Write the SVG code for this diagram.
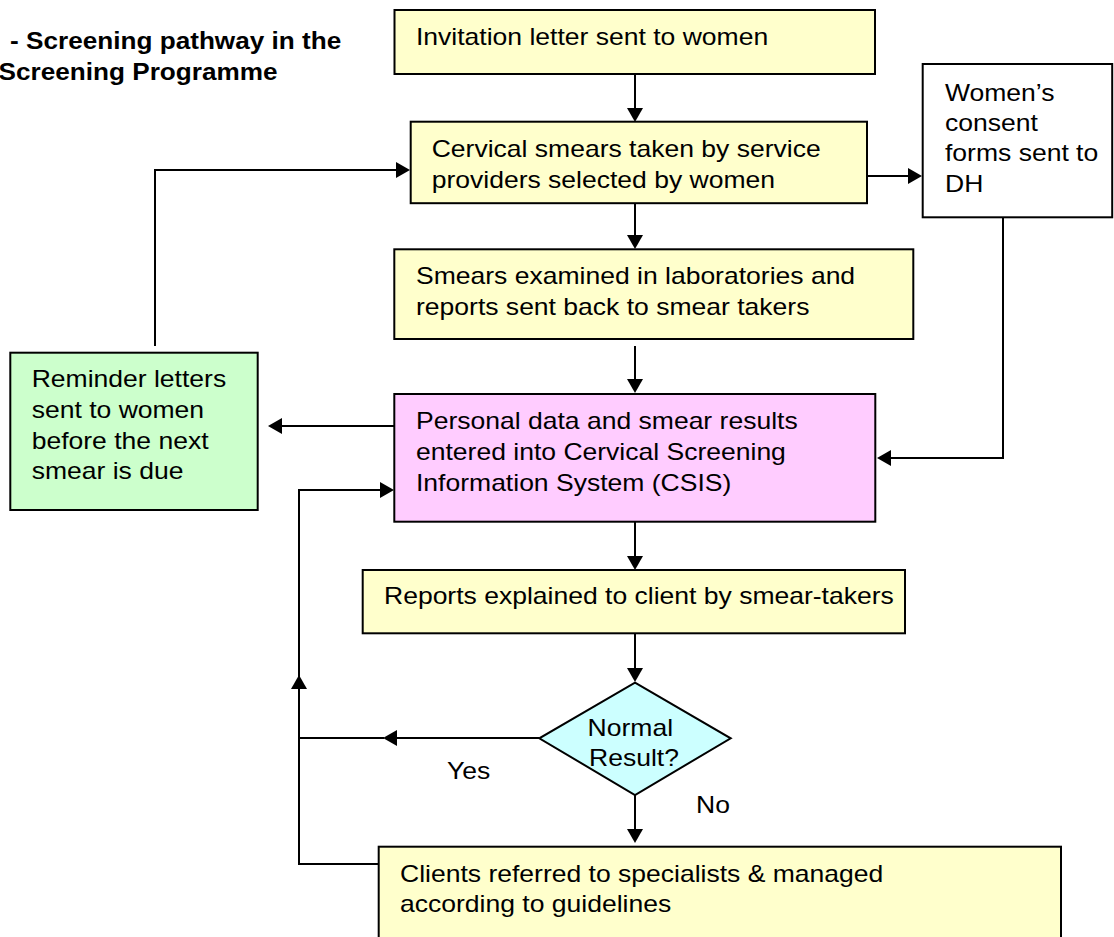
<svg xmlns="http://www.w3.org/2000/svg" width="1114" height="937" viewBox="0 0 1114 937">
  <style>
    .box { stroke: #000; stroke-width: 2; }
    .yellow { fill: #FFFFCC; }
    .green { fill: #CCFFCC; }
    .pink { fill: #FFCCFF; }
    .cyan { fill: #CCFFFF; }
    .white { fill: #FFFFFF; }
    .t { font-family: "Liberation Sans", Arial, sans-serif; font-size: 24px; fill: #000; }
    .title { font-weight: bold; }
    .mid { text-anchor: middle; }
    .conn { fill: none; stroke: #000; stroke-width: 2; }
  </style>
  <defs>
    <marker id="arrow" markerUnits="userSpaceOnUse" viewBox="0 0 14 16" refX="11" refY="8" markerWidth="14" markerHeight="16" orient="auto">
      <path d="M0,0 L14,8 L0,16 Z" fill="#000"/>
    </marker>
  </defs>

  <rect width="1114" height="937" fill="#FFFFFF"/>

  <!-- heading -->
  <g id="heading">
    <text class="t title" transform="translate(10 49.3) scale(1.09 1)">- Screening pathway in the</text>
    <text class="t title" transform="translate(-1.5 80) scale(1.09 1)">Screening Programme</text>
  </g>

  <!-- connectors -->
  <g id="connectors">
    <path class="conn" d="M635,74 V119" marker-end="url(#arrow)"/>
    <path class="conn" d="M155,346 V170 H407" marker-end="url(#arrow)"/>
    <path class="conn" d="M867,176 H919" marker-end="url(#arrow)"/>
    <path class="conn" d="M635,203 V246" marker-end="url(#arrow)"/>
    <path class="conn" d="M635,346 V390" marker-end="url(#arrow)"/>
    <path class="conn" d="M1003,217 V458 H880" marker-end="url(#arrow)"/>
    <path class="conn" d="M394,426 H271" marker-end="url(#arrow)"/>
    <path class="conn" d="M635,522 V567" marker-end="url(#arrow)"/>
    <path class="conn" d="M635,633 V679" marker-end="url(#arrow)"/>
    <path class="conn" d="M539,738 H386" marker-end="url(#arrow)"/>
    <path class="conn" d="M384,738 H299"/>
    <path class="conn" d="M379,864 H299 V678" marker-end="url(#arrow)"/>
    <path class="conn" d="M299,677 V490 H391" marker-end="url(#arrow)"/>
    <path class="conn" d="M635,795 V840" marker-end="url(#arrow)"/>
  </g>

  <g id="invitation">
    <rect class="box yellow" x="394.5" y="10" width="480.5" height="64"/>
    <text class="t" transform="translate(416 45) scale(1.105 1)">Invitation letter sent to women</text>
  </g>

  <g id="smear-taking">
    <rect class="box yellow" x="410.7" y="121.7" width="456.3" height="81.5"/>
    <text class="t" transform="translate(431.7 156.7) scale(1.105 1)">
      <tspan x="0" y="0">Cervical smears taken by service</tspan>
      <tspan x="0" y="31">providers selected by women</tspan>
    </text>
  </g>

  <g id="consent-forms">
    <rect class="box white" x="922.7" y="64" width="189.5" height="153.3"/>
    <text class="t" transform="translate(945 101) scale(1.105 1)">
      <tspan x="0" y="0">Women’s</tspan>
      <tspan x="0" y="30.2">consent</tspan>
      <tspan x="0" y="60.4">forms sent to</tspan>
      <tspan x="0" y="90.6">DH</tspan>
    </text>
  </g>

  <g id="laboratory">
    <rect class="box yellow" x="394.3" y="249.3" width="519" height="89.7"/>
    <text class="t" transform="translate(416 284.3) scale(1.105 1)">
      <tspan x="0" y="0">Smears examined in laboratories and</tspan>
      <tspan x="0" y="30.7">reports sent back to smear takers</tspan>
    </text>
  </g>

  <g id="reminder">
    <rect class="box green" x="10.3" y="352.7" width="247.4" height="157.3"/>
    <text class="t" transform="translate(31.7 387.3) scale(1.105 1)">
      <tspan x="0" y="0">Reminder letters</tspan>
      <tspan x="0" y="30.7">sent to women</tspan>
      <tspan x="0" y="61.4">before the next</tspan>
      <tspan x="0" y="92.1">smear is due</tspan>
    </text>
  </g>

  <g id="csis">
    <rect class="box pink" x="394.3" y="394" width="481" height="127.7"/>
    <text class="t" transform="translate(416 429.3) scale(1.105 1)">
      <tspan x="0" y="0">Personal data and smear results</tspan>
      <tspan x="0" y="30.7">entered into Cervical Screening</tspan>
      <tspan x="0" y="61.4">Information System (CSIS)</tspan>
    </text>
  </g>

  <g id="reports">
    <rect class="box yellow" x="362.7" y="570" width="542.3" height="63.3"/>
    <text class="t" transform="translate(384 604.3) scale(1.105 1)">Reports explained to client by smear-takers</text>
  </g>

  <g id="decision">
    <polygon class="box cyan" points="635,682.7 730.7,738.3 635,795 539.3,738.3"/>
    <text class="t mid" transform="translate(634 735.7) scale(1.105 1)">
      <tspan x="0" y="0">Normal</tspan>
      <tspan x="0" y="30">Result?</tspan>
    </text>
  </g>

  <g id="branch-labels">
    <text class="t" transform="translate(447 779.3) scale(1.105 1)">Yes</text>
    <text class="t" transform="translate(696 813.3) scale(1.105 1)">No</text>
  </g>

  <g id="referral">
    <rect class="box yellow" x="378.7" y="846.7" width="682.3" height="100"/>
    <text class="t" transform="translate(400 881.7) scale(1.105 1)">
      <tspan x="0" y="0">Clients referred to specialists &amp; managed</tspan>
      <tspan x="0" y="30">according to guidelines</tspan>
    </text>
  </g>
</svg>
